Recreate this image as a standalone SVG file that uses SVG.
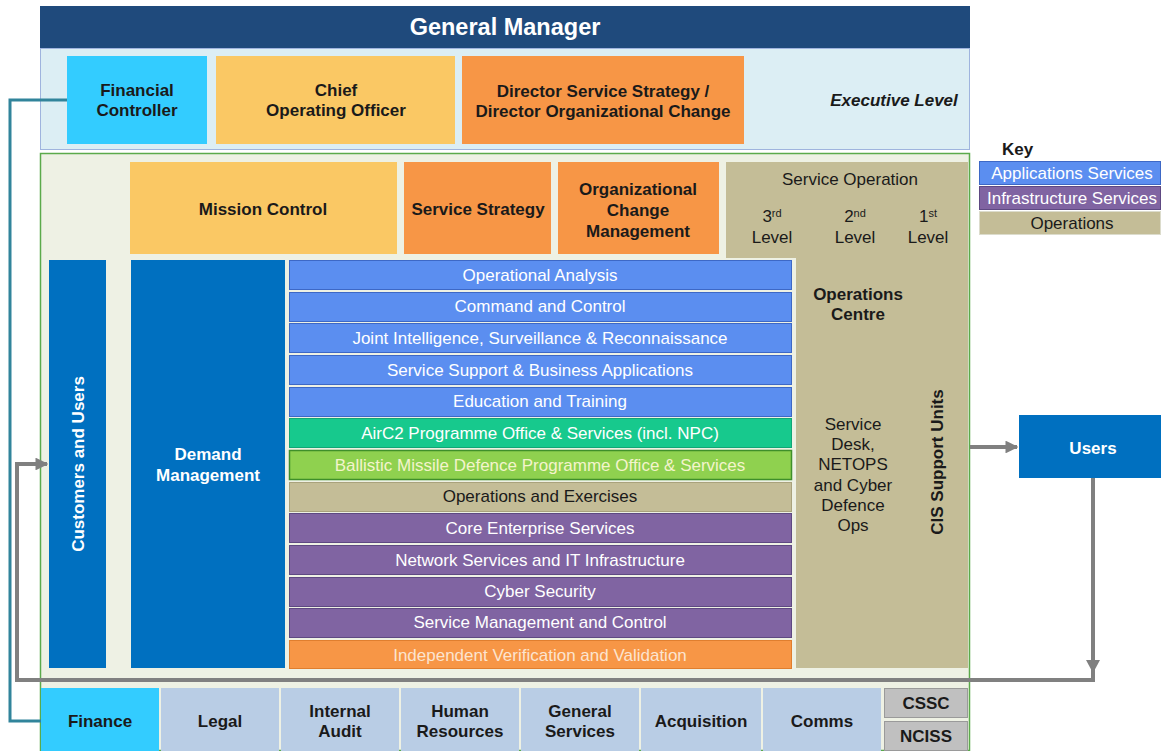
<svg xmlns="http://www.w3.org/2000/svg" width="1161" height="751" viewBox="0 0 1161 751">
<defs>
<style>
text{font-family:"Liberation Sans",Arial,sans-serif;font-size:17px;text-anchor:middle}
.b{font-weight:bold}
.w{fill:#fff}
.d{fill:#1a1a1a}
.app{fill:#5B8EF0;stroke:#3D68C6;stroke-width:1}
.inf{fill:#8064A2;stroke:#5E4982;stroke-width:1}
.ops{fill:#C4BD97}
.opsr{fill:#C4BD97;stroke:#A9A27C;stroke-width:1}
.sup{fill:#B9CDE5}
.grey{fill:#C0C0C0;stroke:#9a9a9a;stroke-width:1}
.conn{fill:none;stroke:#808080;stroke-width:4}
</style>
<marker id="ah" viewBox="0 0 10 10" refX="9" refY="5" markerWidth="3.2" markerHeight="3.2" orient="auto" markerUnits="strokeWidth">
<path d="M0,0 L10,5 L0,10 z" fill="#808080"/>
</marker>
</defs>
<rect width="1161" height="751" fill="#fff"/>

<!-- General manager -->
<g id="gm">
<rect x="40" y="6" width="930" height="42" fill="#1F4A7C"/>
<text x="505" y="35" class="b w" style="font-size:23.5px">General Manager</text>
</g>
<g id="exec">
<rect x="40.5" y="48.5" width="929" height="101" fill="#DCEEF4" stroke="#9FB4DE" stroke-width="1"/>
<text x="894" y="106" class="b d" style="font-style:italic">Executive Level</text>
</g>
<g id="fc">
<rect x="67" y="56" width="140" height="88" fill="#33CCFF"/>
<text x="137" y="96" class="b d">Financial</text>
<text x="137" y="116" class="b d">Controller</text>
</g>
<g id="coo">
<rect x="216" y="56" width="239" height="88" fill="#FAC864"/>
<text x="336" y="96" class="b d">Chief</text>
<text x="336" y="116" class="b d">Operating Officer</text>
</g>
<g id="dir">
<rect x="462" y="56" width="282" height="88" fill="#F79646"/>
<text x="603" y="97" class="b d">Director Service Strategy /</text>
<text x="603" y="117" class="b d">Director Organizational Change</text>
</g>

<!-- main panel -->
<g id="main">
<rect x="40.5" y="153.5" width="929" height="597" fill="#EEF1E4" stroke="#5BAA4B" stroke-width="1.5"/>
</g>
<g id="mission">
<rect x="130" y="162" width="267" height="92" fill="#FAC864"/>
<text x="263" y="215" class="b d">Mission Control</text>
</g>
<g id="strategy">
<rect x="404" y="162" width="147" height="92" fill="#F79646"/>
<text x="478" y="215" class="b d">Service Strategy</text>
</g>
<g id="ocm">
<rect x="558" y="162" width="161" height="92" fill="#F79646"/>
<text x="638" y="195" class="b d">Organizational</text>
<text x="638" y="216" class="b d">Change</text>
<text x="638" y="237" class="b d">Management</text>
</g>
<g id="serviceop">
<path d="M726,162 H968 V668 H796 V258 H726 Z" class="ops"/>
<text x="850" y="185" class="d">Service Operation</text>
<text x="772" y="222" class="d">3<tspan dy="-5" style="font-size:11px">rd</tspan></text>
<text x="772" y="243" class="d">Level</text>
<text x="855" y="222" class="d">2<tspan dy="-5" style="font-size:11px">nd</tspan></text>
<text x="855" y="243" class="d">Level</text>
<text x="928" y="222" class="d">1<tspan dy="-5" style="font-size:11px">st</tspan></text>
<text x="928" y="243" class="d">Level</text>
<text x="858" y="300" class="b d">Operations</text>
<text x="858" y="320" class="b d">Centre</text>
<text x="853" y="430" class="d">Service</text>
<text x="853" y="450" class="d">Desk,</text>
<text x="853" y="470" class="d">NETOPS</text>
<text x="853" y="491" class="d">and Cyber</text>
<text x="853" y="511" class="d">Defence</text>
<text x="853" y="531" class="d">Ops</text>
<text transform="translate(943,462) rotate(-90)" class="b d">CIS Support Units</text>
</g>
<g id="customers">
<rect x="49" y="260" width="57" height="408" fill="#0070C0"/>
<text transform="translate(84,464) rotate(-90)" class="b w">Customers and Users</text>
</g>
<g id="demand">
<rect x="131" y="260" width="154" height="408" fill="#0070C0"/>
<text x="208" y="460" class="b w">Demand</text>
<text x="208" y="481" class="b w">Management</text>
</g>

<!-- service stack -->
<g id="s1"><rect x="289.5" y="260.5" width="502" height="29" class="app"/><text x="540" y="281" class="w">Operational Analysis</text></g>
<g id="s2"><rect x="289.5" y="292.5" width="502" height="29" class="app"/><text x="540" y="312" class="w">Command  and Control</text></g>
<g id="s3"><rect x="289.5" y="323.5" width="502" height="29" class="app"/><text x="540" y="344" class="w">Joint Intelligence, Surveillance &amp; Reconnaissance</text></g>
<g id="s4"><rect x="289.5" y="355.5" width="502" height="29" class="app"/><text x="540" y="376" class="w">Service Support &amp; Business Applications</text></g>
<g id="s5"><rect x="289.5" y="387.5" width="502" height="29" class="app"/><text x="540" y="407" class="w">Education and Training</text></g>
<g id="s6"><rect x="289.5" y="418.5" width="502" height="29" fill="#17C98D" stroke="#12A676" stroke-width="1"/><text x="540" y="439" class="w">AirC2 Programme Office &amp; Services (incl. NPC)</text></g>
<g id="s7"><rect x="289.5" y="450.5" width="502" height="29" fill="#8FD14F" stroke="#3F8F2A" stroke-width="1.5"/><text x="540" y="471" style="fill:#F4F4CC">Ballistic Missile Defence Programme Office &amp; Services</text></g>
<g id="s8"><rect x="289.5" y="482.5" width="502" height="29" class="opsr"/><text x="540" y="502" class="d">Operations and Exercises</text></g>
<g id="s9"><rect x="289.5" y="513.5" width="502" height="29" class="inf"/><text x="540" y="534" class="w">Core Enterprise Services</text></g>
<g id="s10"><rect x="289.5" y="545.5" width="502" height="29" class="inf"/><text x="540" y="566" class="w">Network Services and IT Infrastructure</text></g>
<g id="s11"><rect x="289.5" y="577.5" width="502" height="29" class="inf"/><text x="540" y="597" class="w">Cyber Security</text></g>
<g id="s12"><rect x="289.5" y="608.5" width="502" height="29" class="inf"/><text x="540" y="628" class="w">Service Management and Control</text></g>
<g id="s13"><rect x="289.5" y="640.5" width="502" height="28" fill="#F79646" stroke="#E07E2E" stroke-width="1"/><text x="540" y="661" style="fill:#FCE4CF">Independent Verification and Validation</text></g>

<!-- support row -->
<g id="finance"><rect x="41" y="688" width="118" height="63" fill="#33CCFF"/><text x="100" y="727" class="b d">Finance</text></g>
<g id="legal"><rect x="161" y="688" width="118" height="63" class="sup"/><text x="220" y="727" class="b d">Legal</text></g>
<g id="audit"><rect x="281" y="688" width="118" height="63" class="sup"/><text x="340" y="717" class="b d">Internal</text><text x="340" y="737" class="b d">Audit</text></g>
<g id="hr"><rect x="401" y="688" width="118" height="63" class="sup"/><text x="460" y="717" class="b d">Human</text><text x="460" y="737" class="b d">Resources</text></g>
<g id="gs"><rect x="521" y="688" width="118" height="63" class="sup"/><text x="580" y="717" class="b d">General</text><text x="580" y="737" class="b d">Services</text></g>
<g id="acq"><rect x="641" y="688" width="120" height="63" class="sup"/><text x="701" y="727" class="b d">Acquisition</text></g>
<g id="comms"><rect x="763" y="688" width="118" height="63" class="sup"/><text x="822" y="727" class="b d">Comms</text></g>
<g id="cssc"><rect x="884.5" y="688.5" width="83" height="29" class="grey"/><text x="926" y="709" class="b d">CSSC</text></g>
<g id="nciss"><rect x="884.5" y="721.5" width="83" height="29" class="grey"/><text x="926" y="742" class="b d">NCISS</text></g>

<!-- users -->
<g id="users">
<rect x="1019" y="415" width="142" height="63" fill="#0070C0"/>
<text x="1093" y="454" class="b w">Users</text>
</g>

<!-- key -->
<g id="key">
<text x="1002" y="155" class="b d" style="text-anchor:start">Key</text>
<rect x="979.5" y="161.5" width="181" height="23" class="app"/>
<text x="1072" y="179" class="w">Applications Services</text>
<rect x="979.5" y="186.5" width="181" height="23" class="inf"/>
<text x="1072" y="204" class="w">Infrastructure Services</text>
<rect x="979.5" y="211.5" width="181" height="23" class="ops" stroke="#dcdccc" stroke-width="1"/>
<text x="1072" y="229" class="d">Operations</text>
</g>

<!-- connectors -->
<g id="connectors">
<path d="M67,100 H10 V721 H41" fill="none" stroke="#31849B" stroke-width="3"/>
<path d="M970,447 H1017" class="conn" marker-end="url(#ah)"/>
<path d="M1093,478 V680 H17 V464 H47" class="conn" marker-end="url(#ah)"/>
<path d="M1086,660 L1100,660 L1093,673 z" fill="#808080"/>
</g>
</svg>
